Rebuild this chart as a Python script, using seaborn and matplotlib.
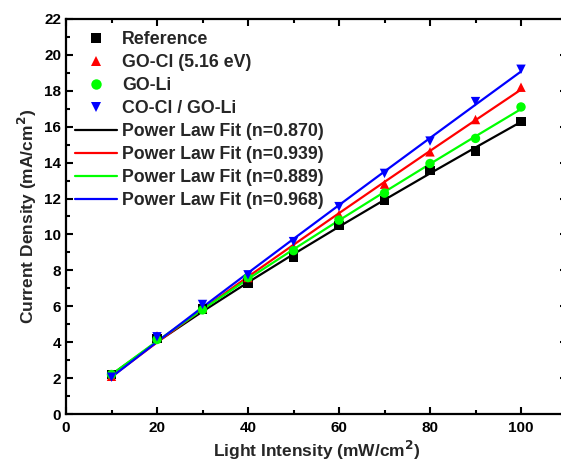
import numpy as np
import pandas as pd
import matplotlib
matplotlib.use("Agg")
import matplotlib.pyplot as plt
import seaborn as sns
from matplotlib.lines import Line2D
from matplotlib.ticker import MultipleLocator

sns.set_theme(style="ticks")
plt.rcParams['font.family'] = ['Liberation Sans', 'DejaVu Sans']
plt.rcParams['font.weight'] = 'bold'
plt.rcParams['mathtext.default'] = 'bf'

# ---- data ----
intensity = [10, 20, 30, 40, 50, 60, 70, 80, 90, 100]
series_names = ["Reference", "GO-Cl (5.16 eV)", "GO-Li", "CO-Cl / GO-Li"]
reference = [2.2, 4.2, 5.85, 7.3, 8.75, 10.5, 11.9, 13.55, 14.65, 16.3]
go_cl = [2.1, 4.35, 5.9, 7.6, 9.3, 11.1, 12.8, 14.6, 16.4, 18.2]
go_li = [2.2, 4.15, 5.8, 7.6, 9.1, 10.8, 12.3, 13.95, 15.35, 17.1]
co_cl_go_li = [2.05, 4.3, 6.1, 7.75, 9.6, 11.55, 13.4, 15.2, 17.4, 19.2]
fit_exponents = [0.870, 0.939, 0.889, 0.968]
fit_labels = ["Power Law Fit (n=0.870)", "Power Law Fit (n=0.939)",
              "Power Law Fit (n=0.889)", "Power Law Fit (n=0.968)"]
colors = ["#000000", "#FF0000", "#00FF00", "#0000FF"]
markers = ["s", "^", "o", "v"]

series_values = [reference, go_cl, go_li, co_cl_go_li]

rows = []
for name, vals in zip(series_names, series_values):
    for x, y in zip(intensity, vals):
        rows.append({"x": x, "y": y, "series": name})
df = pd.DataFrame(rows)

# power-law fit lines with the legend's exponent, prefactor by least squares
xs = np.array(intensity, dtype=float)
fit_rows = []
for lab, n, vals in zip(fit_labels, fit_exponents, series_values):
    v = np.array(vals)
    basis = xs ** n
    a = np.sum(basis * v) / np.sum(basis * basis)
    for x, y in zip(xs, a * basis):
        fit_rows.append({"x": x, "y": y, "fit": lab})
fit_df = pd.DataFrame(fit_rows)

fig = plt.figure(figsize=(5.61, 4.66), dpi=100)
ax = fig.add_axes([66 / 561, 1 - 414 / 466, 500.5 / 561, 395 / 466])

sns.lineplot(data=fit_df, x="x", y="y", hue="fit", palette=colors,
             linewidth=1.6, ax=ax, legend=False, zorder=2)
sns.scatterplot(data=df, x="x", y="y", hue="series", style="series",
                palette=colors, markers=markers, s=46, edgecolor="none",
                ax=ax, legend=False, zorder=3)

ax.set_xlim(0, 110)
ax.set_ylim(0, 22)
ax.xaxis.set_major_locator(MultipleLocator(20))
ax.xaxis.set_minor_locator(MultipleLocator(10))
ax.yaxis.set_major_locator(MultipleLocator(2))
ax.yaxis.set_minor_locator(MultipleLocator(1))
ax.tick_params(which="both", direction="in", top=True, right=True,
               width=1.5, labelsize=11, colors="black")
ax.tick_params(which="major", length=5)
ax.tick_params(which="minor", length=3)
ax.tick_params(axis="x", pad=5)
for lab in ax.get_xticklabels() + ax.get_yticklabels():
    lab.set_fontweight("bold")
for sp in ax.spines.values():
    sp.set_linewidth(1.6)
    sp.set_color("black")
    sp.set_visible(True)

ax.set_xlabel("Light Intensity (mW/cm$^\\mathbf{2}$)", fontsize=12.5,
              fontweight="bold", labelpad=3)
ax.set_ylabel("Current Density (mA/cm$^\\mathbf{2}$)", fontsize=12.5,
              fontweight="bold", labelpad=4)

handles = []
for c, m in zip(colors, markers):
    handles.append(Line2D([], [], linestyle="none", marker=m, color=c,
                          markersize=7.5, markeredgewidth=0))
for c in colors:
    handles.append(Line2D([], [], color=c, linewidth=1.6))
leg = ax.legend(handles, series_names + fit_labels, loc="upper left",
                bbox_to_anchor=(0.018, 0.97), frameon=False,
                prop={"weight": "bold", "size": 12.8}, handlelength=2.36,
                handletextpad=0.28, labelspacing=0.34, borderpad=0,
                borderaxespad=0)

fig.savefig("out.png", dpi=100)
